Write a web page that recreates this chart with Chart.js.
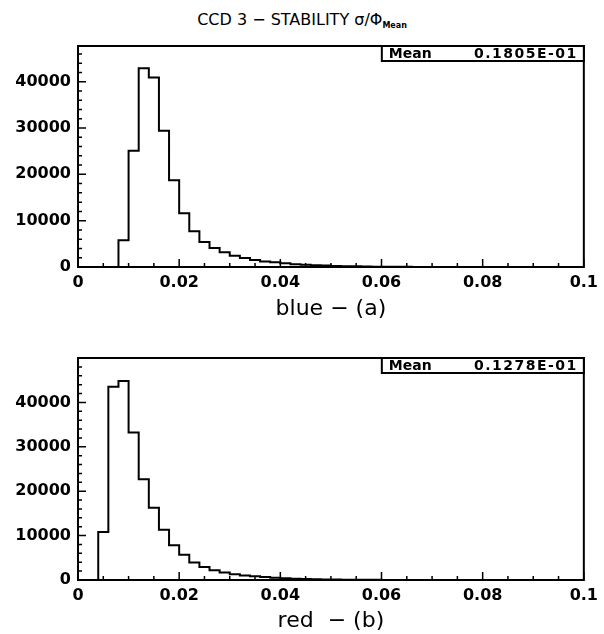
<!DOCTYPE html>
<html>
<head>
<meta charset="utf-8">
<script src="https://cdn.jsdelivr.net/npm/chart.js@4"></script>
<style>
  body { margin: 0; background: #fff; width: 604px; height: 634px; position: relative; overflow: hidden; }
  #titre { position: absolute; top: 10px; left: 0; width: 604px; text-align: center;
           font-family: 'DejaVu Sans'; font-size: 16px; color: #000; }
  #titre sub { font-size: 8px; font-weight: bold; vertical-align: -3px; }
  #c1 { position: absolute; top: 0; left: 0; }
  #c2 { position: absolute; top: 322px; left: 0; }
</style>
</head>
<body>
<div id="titre">CCD 3 − STABILITY σ/Φ<sub>Mean</sub></div>
<canvas id="c1" width="604" height="322"></canvas>
<canvas id="c2" width="604" height="312"></canvas>
<script>
// bords des classes (largeur 0.002)
const bornes = [0, 0.002, 0.004, 0.006, 0.008, 0.010, 0.012, 0.014, 0.016, 0.018,
    0.020, 0.022, 0.024, 0.026, 0.028, 0.030, 0.032, 0.034, 0.036, 0.038,
    0.040, 0.042, 0.044, 0.046, 0.048, 0.050, 0.052, 0.054, 0.056, 0.058,
    0.060, 0.062, 0.064, 0.066, 0.068, 0.070, 0.072, 0.074, 0.076, 0.078,
    0.080, 0.082, 0.084, 0.086, 0.088, 0.090, 0.092, 0.094, 0.096, 0.098, 0.100];

// contenus des histogrammes
const comptesBlue = [0, 0, 0, 0, 5800, 25100, 42900, 40900, 29400, 18700,
    11600, 7700, 5400, 4100, 3200, 2450, 1950, 1500, 1200, 1000,
    800, 620, 480, 380, 300, 230, 180, 140, 110, 80,
    60, 45, 35, 25, 20, 15, 12, 10, 8, 6,
    5, 4, 3, 2, 2, 1, 1, 1, 0, 0];
const comptesRed = [0, 0, 10800, 43500, 44800, 33200, 22700, 16300, 11300, 7800,
    5700, 3950, 2900, 2200, 1700, 1320, 1020, 850, 650, 500,
    390, 300, 230, 180, 140, 105, 80, 60, 45, 35,
    25, 20, 15, 12, 9, 7, 5, 4, 3, 2,
    2, 1, 1, 1, 0, 0, 0, 0, 0, 0];

const xMajeurs = [0, 0.02, 0.04, 0.06, 0.08, 0.1];
const yMajeurs = [0, 10000, 20000, 30000, 40000];
const moyenneBlue = '0.1805E-01';
const moyenneRed = '0.1278E-01';

const police = 'DejaVu Sans';

function estMajeur(v, liste) {
    return liste.some(m => Math.abs(m - v) < 1e-9);
}

// points pour le trait en escalier
function pointsHisto(comptes) {
    const pts = comptes.map((c, i) => ({ x: bornes[i], y: c }));
    pts.push({ x: bornes[bornes.length - 1], y: 0 });
    return pts;
}

// cadre, graduations intérieures et boîte de statistiques
const cadrePlugin = {
    id: 'cadre',
    afterDraw(chart, args, opts) {
        const { ctx, chartArea: a, scales: { x, y } } = chart;
        ctx.save();
        ctx.strokeStyle = '#000';
        ctx.lineWidth = 2;
        ctx.strokeRect(a.left, a.top, a.right - a.left, a.bottom - a.top);

        ctx.lineWidth = 1.5;
        ctx.beginPath();
        x.ticks.forEach(t => {
            const px = x.getPixelForValue(t.value);
            const len = estMajeur(t.value, xMajeurs) ? 8 : 4;
            ctx.moveTo(px, a.bottom);
            ctx.lineTo(px, a.bottom - len);
        });
        y.ticks.forEach(t => {
            const py = y.getPixelForValue(t.value);
            const len = estMajeur(t.value, yMajeurs) ? 8 : 4;
            ctx.moveTo(a.left, py);
            ctx.lineTo(a.left + len, py);
        });
        ctx.stroke();

        // boîte Mean
        const bx = a.right - 202, bh = 15;
        ctx.lineWidth = 2;
        ctx.fillStyle = '#fff';
        ctx.fillRect(bx, a.top, a.right - bx, bh);
        ctx.strokeRect(bx, a.top, a.right - bx, bh);
        ctx.fillStyle = '#000';
        ctx.textBaseline = 'middle';
        ctx.font = 'bold 14px ' + police;
        ctx.textAlign = 'left';
        ctx.fillText('Mean', bx + 7, a.top + bh / 2 + 1);
        ctx.font = 'bold 14px ' + police;
        ctx.letterSpacing = '1.5px';
        ctx.textAlign = 'right';
        ctx.fillText(opts.moyenne, a.right - 6, a.top + bh / 2 + 1);
        ctx.restore();
    }
};

function creerHisto(id, comptes, titreX, yMax, padHaut, hautX, moyenne) {
    const ctx = document.getElementById(id).getContext('2d');
    return new Chart(ctx, {
        type: 'line',
        data: {
            datasets: [{
                data: pointsHisto(comptes),
                stepped: 'before',
                borderColor: '#000',
                borderWidth: 2,
                pointRadius: 0,
                fill: false,
                tension: 0
            }]
        },
        options: {
            responsive: false,
            animation: false,
            layout: { padding: { top: padHaut, right: 19, left: 0, bottom: 0 } },
            plugins: {
                legend: { display: false },
                tooltip: { enabled: false },
                cadre: { moyenne: moyenne }
            },
            scales: {
                x: {
                    type: 'linear',
                    min: 0,
                    max: 0.1,
                    grid: { display: false, drawTicks: false },
                    border: { display: false },
                    ticks: {
                        stepSize: 0.005,
                        autoSkip: false,
                        maxRotation: 0,
                        padding: 6,
                        color: '#000',
                        font: { family: police, size: 16, weight: 'bold' },
                        callback: v => {
                            if (!estMajeur(v, xMajeurs)) return '';
                            return v === 0 ? '0' : String(+v.toFixed(2));
                        }
                    },
                    title: {
                        display: true,
                        text: titreX,
                        color: '#000',
                        font: { family: police, size: 22 },
                        padding: 0
                    },
                    afterFit: s => { s.height = hautX; }
                },
                y: {
                    min: 0,
                    max: yMax,
                    grid: { display: false, drawTicks: false },
                    border: { display: false },
                    ticks: {
                        autoSkip: false,
                        padding: 7,
                        color: '#000',
                        font: { family: police, size: 16, weight: 'bold' },
                        callback: v => estMajeur(v, yMajeurs) ? String(v) : ''
                    },
                    // graduations tous les 2000 jusqu'au haut du cadre
                    afterBuildTicks: s => {
                        const t = [];
                        for (let v = 0; v <= s.max; v += 2000) t.push({ value: v });
                        s.ticks = t;
                    },
                    afterFit: s => { s.width = 78; }
                }
            }
        },
        plugins: [cadrePlugin]
    });
}

document.addEventListener('DOMContentLoaded', () => {
    creerHisto('c1', comptesBlue, 'blue − (a)', 47700, 46, 55, moyenneBlue);
    creerHisto('c2', comptesRed, 'red  − (b)', 50000, 36, 54, moyenneRed);
});
</script>
</body>
</html>
